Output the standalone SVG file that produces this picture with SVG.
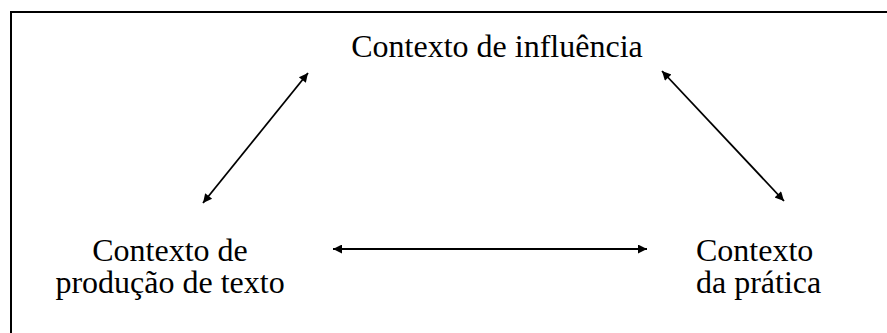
<svg xmlns="http://www.w3.org/2000/svg" width="887" height="333" viewBox="0 0 887 333">
<style>
.t{font-family:"Liberation Serif","Times New Roman",serif;font-size:32px;fill:#000}
.c{stroke:#000;stroke-width:1.8;fill:none;marker-start:url(#ah);marker-end:url(#ah)}
</style>
<defs>
<marker id="ah" viewBox="0 0 10 10" refX="10" refY="5" markerWidth="12" markerHeight="9" markerUnits="userSpaceOnUse" orient="auto-start-reverse">
<path d="M0,0 L10,5 L0,10 Z" fill="#000"/>
</marker>
</defs>
<rect x="11" y="12" width="900" height="400" fill="#fff" stroke="#000" stroke-width="2"/>
<g id="connectors">
<line class="c" x1="308" y1="73" x2="203" y2="203"/>
<line class="c" x1="662" y1="71" x2="784" y2="201"/>
<line class="c" x1="333" y1="249" x2="647" y2="249"/>
</g>
<g id="influencia">
<text class="t" x="497" y="57" text-anchor="middle">Contexto de influência</text>
</g>
<g id="producao">
<text class="t" x="170" y="261" text-anchor="middle">Contexto de</text>
<text class="t" x="170" y="293" text-anchor="middle">produção de texto</text>
</g>
<g id="pratica">
<text class="t" x="696" y="261">Contexto</text>
<text class="t" x="696" y="293">da prática</text>
</g>
</svg>
